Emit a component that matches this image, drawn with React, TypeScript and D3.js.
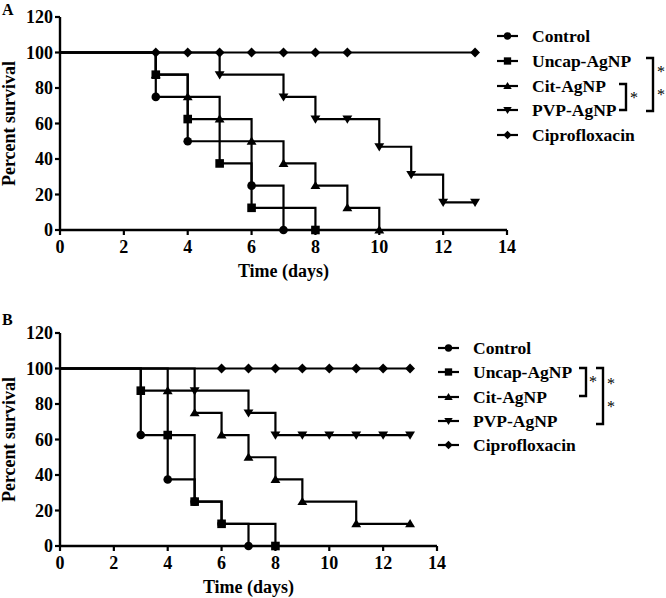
import React from "react";
import * as d3 from "d3";

type Ev = { t: number; s: number };

// Panel A data (time in days, percent survival)
const A_CONTROL: Ev[] = [{ t: 3, s: 75 }, { t: 4, s: 50 }, { t: 6, s: 25 }, { t: 7, s: 0 }];
const A_UNCAP: Ev[] = [{ t: 3, s: 87.5 }, { t: 4, s: 62.5 }, { t: 5, s: 37.5 }, { t: 6, s: 12.5 }, { t: 8, s: 0 }];
const A_CIT: Ev[] = [{ t: 3, s: 87.5 }, { t: 4, s: 75 }, { t: 5, s: 62.5 }, { t: 6, s: 50 }, { t: 7, s: 37.5 }, { t: 8, s: 25 }, { t: 9, s: 12.5 }, { t: 10, s: 0 }];
const A_PVP: Ev[] = [{ t: 5, s: 87.5 }, { t: 7, s: 75 }, { t: 8, s: 62.5 }, { t: 9, s: 62.5 }, { t: 10, s: 46.9 }, { t: 11, s: 31.25 }, { t: 12, s: 15.6 }, { t: 13, s: 15.6 }];
const A_CIPRO: Ev[] = [{ t: 3, s: 100 }, { t: 4, s: 100 }, { t: 5, s: 100 }, { t: 6, s: 100 }, { t: 7, s: 100 }, { t: 8, s: 100 }, { t: 9, s: 100 }, { t: 13, s: 100 }];

// Panel B data
const B_CONTROL: Ev[] = [{ t: 3, s: 62.5 }, { t: 4, s: 37.5 }, { t: 5, s: 25 }, { t: 6, s: 12.5 }, { t: 7, s: 0 }];
const B_UNCAP: Ev[] = [{ t: 3, s: 87.5 }, { t: 4, s: 62.5 }, { t: 5, s: 25 }, { t: 6, s: 12.5 }, { t: 8, s: 0 }];
const B_CIT: Ev[] = [{ t: 4, s: 87.5 }, { t: 5, s: 75 }, { t: 6, s: 62.5 }, { t: 7, s: 50 }, { t: 8, s: 37.5 }, { t: 9, s: 25 }, { t: 11, s: 12.5 }, { t: 13, s: 12.5 }];
const B_PVP: Ev[] = [{ t: 5, s: 87.5 }, { t: 7, s: 75 }, { t: 8, s: 62.5 }, { t: 9, s: 62.5 }, { t: 10, s: 62.5 }, { t: 11, s: 62.5 }, { t: 12, s: 62.5 }, { t: 13, s: 62.5 }];
const B_CIPRO: Ev[] = [{ t: 6, s: 100 }, { t: 7, s: 100 }, { t: 8, s: 100 }, { t: 9, s: 100 }, { t: 10, s: 100 }, { t: 11, s: 100 }, { t: 12, s: 100 }, { t: 13, s: 100 }];

const SERIES_NAMES = ["Control", "Uncap-AgNP", "Cit-AgNP", "PVP-AgNP", "Ciprofloxacin"];
const SHAPES = ["circle", "square", "up", "down", "diamond"];
const X_TICKS = [0, 2, 4, 6, 8, 10, 12, 14];
const Y_TICKS = [0, 20, 40, 60, 80, 100, 120];

const FONT = "'Liberation Serif', 'Times New Roman', serif";

function Marker({ shape, x, y, k = 1 }: { shape: string; x: number; y: number; k?: number }) {
  const r = 4.3 * k;
  if (shape === "circle") return <circle cx={x} cy={y} r={r} fill="#000" />;
  if (shape === "square") return <rect x={x - r} y={y - r} width={2 * r} height={2 * r} fill="#000" />;
  if (shape === "up")
    return <path d={`M${x},${y - r * 1.1}L${x + r * 1.15},${y + r * 0.8}L${x - r * 1.15},${y + r * 0.8}Z`} fill="#000" />;
  if (shape === "down")
    return <path d={`M${x},${y + r * 1.1}L${x + r * 1.15},${y - r * 0.8}L${x - r * 1.15},${y - r * 0.8}Z`} fill="#000" />;
  return <path d={`M${x},${y - r * 1.15}L${x + r * 1.15},${y}L${x},${y + r * 1.15}L${x - r * 1.15},${y}Z`} fill="#000" />;
}

type Bracket = { y1: number; y2: number; x: number; stars: number[]; starX: number };

function Panel({
  label, top, x0, x1, yTop, y0, series, legendX, legendY, brackets,
}: {
  label: string; top: number; x0: number; x1: number; yTop: number; y0: number;
  series: Ev[][]; legendX: number; legendY: number[]; brackets: Bracket[];
}) {
  const x = d3.scaleLinear().domain([0, 14]).range([x0, x1]);
  const y = d3.scaleLinear().domain([0, 120]).range([y0, yTop]);
  const line = d3.line<Ev>().x((d) => x(d.t)).y((d) => y(d.s)).curve(d3.curveStepAfter);
  const drawOrder = [4, 3, 2, 0, 1];
  return (
    <g fontFamily={FONT} fontWeight="bold" fill="#000">
      <text x={2} y={top} fontSize={16}>{label}</text>
      {drawOrder.map((i) => (
        <path key={"l" + i} d={line([{ t: 0, s: 100 }, ...series[i]]) || ""} fill="none" stroke="#000" strokeWidth={2.2} />
      ))}
      <line x1={x0} x2={x0} y1={yTop} y2={y0} stroke="#000" strokeWidth={2.4} />
      <line x1={x0} x2={x1} y1={y0} y2={y0} stroke="#000" strokeWidth={2.4} />
      {Y_TICKS.map((v) => (
        <g key={"y" + v}>
          <line x1={x0 - 5} x2={x0} y1={y(v)} y2={y(v)} stroke="#000" strokeWidth={2.2} />
          <text x={x0 - 7} y={y(v)} dy="0.34em" textAnchor="end" fontSize={18}>{v}</text>
        </g>
      ))}
      {X_TICKS.map((v) => (
        <g key={"x" + v}>
          <line x1={x(v)} x2={x(v)} y1={y0} y2={y0 + 5} stroke="#000" strokeWidth={2.2} />
          <text x={x(v)} y={y0 + 23} textAnchor="middle" fontSize={18}>{v}</text>
        </g>
      ))}
      <text x={(x0 + x1) / 2} y={y0 + 47} textAnchor="middle" fontSize={18}>Time (days)</text>
      <text transform={`translate(15,${(yTop + y0) / 2}) rotate(-90)`} textAnchor="middle" fontSize={18}>Percent survival</text>
      {drawOrder.map((i) => (
        <g key={"m" + i}>
          {series[i].map((d, j) => (
            <Marker key={j} shape={SHAPES[i]} x={x(d.t)} y={y(d.s)} />
          ))}
        </g>
      ))}
      {SERIES_NAMES.map((n, i) => (
        <g key={"lg" + i}>
          <line x1={legendX} x2={legendX + 21} y1={legendY[i]} y2={legendY[i]} stroke="#000" strokeWidth={2.2} />
          <Marker shape={SHAPES[i]} x={legendX + 10.5} y={legendY[i]} k={0.85} />
          <text x={legendX + 35} y={legendY[i]} dy="0.34em" fontSize={17.5}>{n}</text>
        </g>
      ))}
      {brackets.map((b, i) => (
        <g key={"b" + i}>
          <path d={`M${b.x - 7},${b.y1}H${b.x}V${b.y2}H${b.x - 7}`} fill="none" stroke="#000" strokeWidth={2.4} />
          <g opacity={0.999}>
            {b.stars.map((sy, j) => (
              <text key={j} x={b.starX} y={sy} dy="0.7em" fontSize={16} fontWeight="normal" fill="#000">*</text>
            ))}
          </g>
        </g>
      ))}
    </g>
  );
}

export default function App() {
  return (
    <svg width={666} height={598} style={{ display: "block", position: "absolute", left: 0, top: 0, background: "#fff" }}>
      <Panel
        label="A" top={15} x0={60} x1={507} yTop={17} y0={230}
        series={[A_CONTROL, A_UNCAP, A_CIT, A_PVP, A_CIPRO]}
        legendX={497} legendY={[36, 61, 86, 110, 135]}
        brackets={[
          { x: 626, y1: 84, y2: 110, stars: [92], starX: 630 },
          { x: 653, y1: 58, y2: 111, stars: [66, 89], starX: 657 },
        ]}
      />
      <Panel
        label="B" top={325} x0={60} x1={437} yTop={333} y0={546}
        series={[B_CONTROL, B_UNCAP, B_CIT, B_PVP, B_CIPRO]}
        legendX={438} legendY={[348, 372, 397, 421, 445]}
        brackets={[
          { x: 586, y1: 368, y2: 396, stars: [376], starX: 589 },
          { x: 603, y1: 368, y2: 424, stars: [378, 401], starX: 607 },
        ]}
      />
    </svg>
  );
}
